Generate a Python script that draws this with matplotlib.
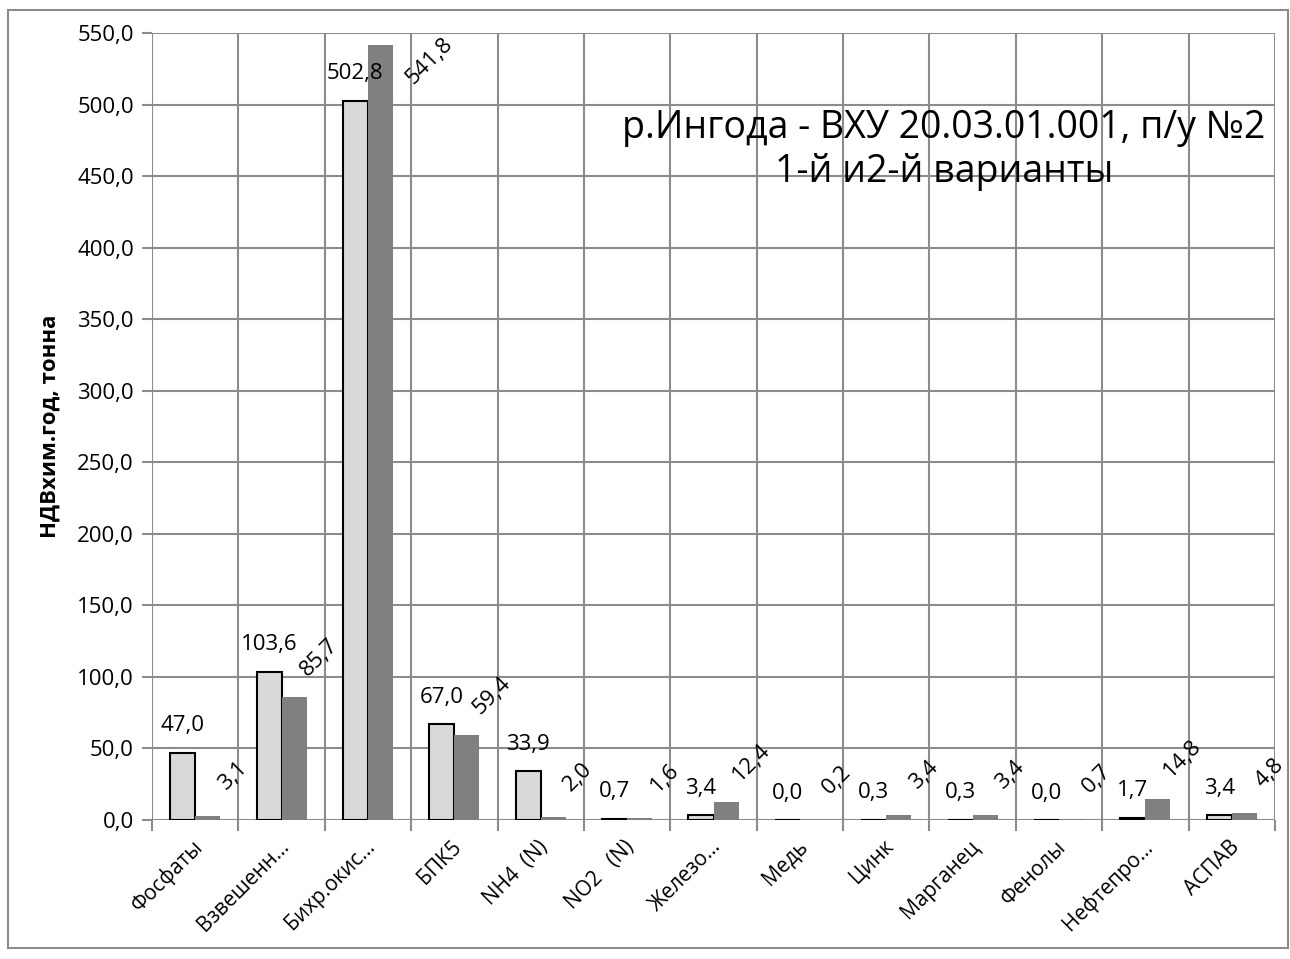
import matplotlib
matplotlib.use("Agg")
import matplotlib.pyplot as plt
from matplotlib.patches import Rectangle
import numpy as np

plt.rcParams['font.family'] = ['Open Sans', 'DejaVu Sans']

categories = ["Фосфаты", "Взвешенн…", "Бихр.окис…", "БПК5", "NH4  (N)", "NO2   (N)",
              "Железо…", "Медь", "Цинк", "Марганец", "Фенолы", "Нефтепро…", "АСПАВ"]
variant1 = [47.0, 103.6, 502.8, 67.0, 33.9, 0.7, 3.4, 0.0, 0.3, 0.3, 0.0, 1.7, 3.4]
variant2 = [3.1, 85.7, 541.8, 59.4, 2.0, 1.6, 12.4, 0.2, 3.4, 3.4, 0.7, 14.8, 4.8]
y_ticks = [0, 50, 100, 150, 200, 250, 300, 350, 400, 450, 500, 550]

title = "р.Ингода - ВХУ 20.03.01.001, п/у №2\n1-й и2-й варианты"
y_label = "НДВхим.год, тонна"

GRID = "#8c8c8c"
LIGHT = "#d9d9d9"
DARK = "#808080"


def fmt(v):
    return f"{v:.1f}".replace(".", ",")


fig = plt.figure(figsize=(12.9, 9.59), dpi=100)
ax = fig.add_axes([152 / 1290, 1 - 820 / 959, (1275 - 152) / 1290, (820 - 33) / 959])

# chart-area frame
fig.patches.append(Rectangle((8 / 1290, 1 - 948 / 959), 1280 / 1290, 938 / 959,
                             transform=fig.transFigure, fill=False,
                             edgecolor=GRID, linewidth=1.5))

x = np.arange(len(categories))
w = 0.29
ax.bar(x - w / 2, variant1, width=w, color=LIGHT, edgecolor="black", linewidth=1.5, zorder=3)
ax.bar(x + w / 2, variant2, width=w, color=DARK, edgecolor="none", zorder=3)

ax.set_xlim(-0.5, len(categories) - 0.5)
ax.set_ylim(0, 550)

# grid: horizontal at value ticks, vertical at category boundaries
ax.set_yticks(y_ticks)
ax.set_yticklabels([fmt(v) for v in y_ticks], fontsize=16)
for v in y_ticks:
    ax.axhline(v, color=GRID, linewidth=1.5, zorder=1)
bounds = np.arange(len(categories) + 1) - 0.5
for b in bounds:
    ax.axvline(b, color=GRID, linewidth=1.5, zorder=1)

ax.set_xticks(bounds, minor=True)
ax.set_xticks(x)
ax.set_xticklabels([])
ax.tick_params(axis="x", which="major", length=0)
ax.tick_params(axis="x", which="minor", length=8, color=GRID, width=1.5)
ax.tick_params(axis="y", length=7, color=GRID, width=1.5, pad=6)
for s in ax.spines.values():
    s.set_visible(False)

for xi, name in zip(x, categories):
    ax.annotate(name, xy=(xi, 0), xycoords=("data", "axes fraction"),
                xytext=(3, -17), textcoords="offset points",
                rotation=45, rotation_mode="anchor", ha="right", va="center",
                fontsize=15)

ax.set_ylabel(y_label, fontsize=16, fontweight="bold", labelpad=12)

# value labels
px = 0.72  # points per pixel at 100 dpi
for xi, v in zip(x, variant1):
    ax.annotate(fmt(v), xy=(xi - w / 2, v), xytext=(0, 27 * px), textcoords="offset points",
                ha="center", va="center", fontsize=16, zorder=5)

for xi, v in zip(x, variant2):
    bar_top_px = (550 - v) / 550 * 787
    if bar_top_px < 60:
        # no room above the bar: shift the label to its right
        offset = (49 * px, -16 * px)
    else:
        offset = (25 * px, 40 * px)
    ax.annotate(fmt(v), xy=(xi + w / 2, v), xytext=offset, textcoords="offset points",
                ha="center", va="center", rotation=45, fontsize=16, zorder=5)

ax.text(0.705, 0.851, title, transform=ax.transAxes, ha="center", va="center",
        fontsize=27, linespacing=1.2, zorder=6)

fig.savefig("out.png", dpi=100)
